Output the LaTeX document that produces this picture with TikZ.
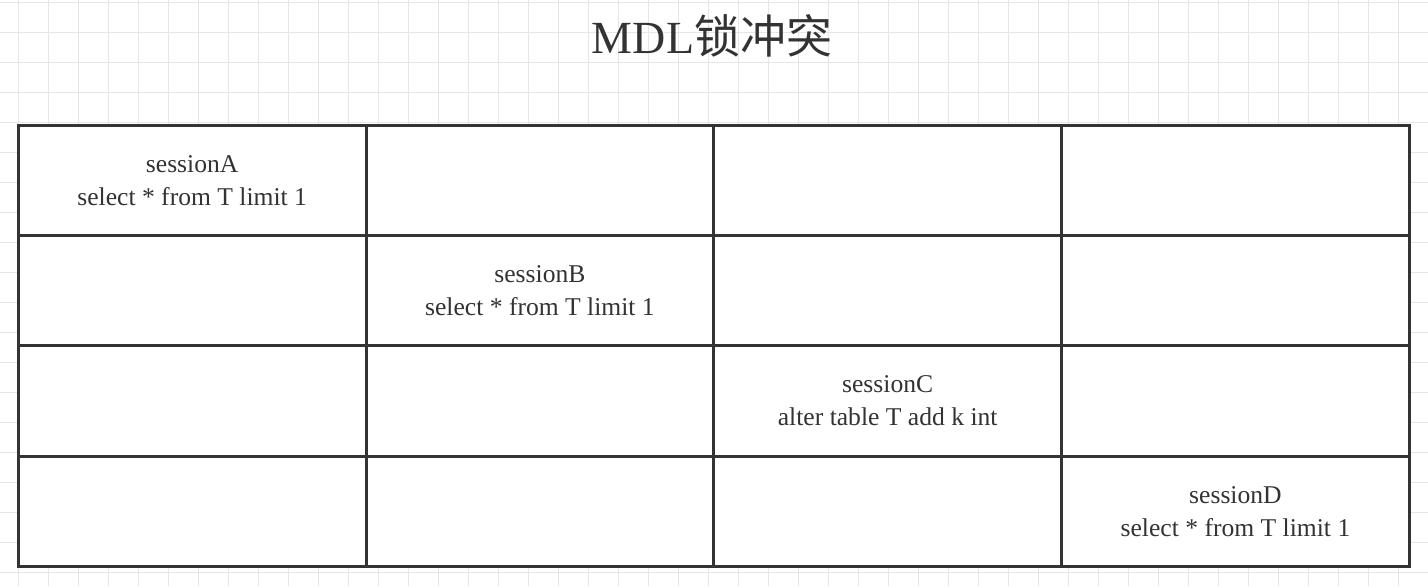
\documentclass[tikz,border=0pt]{standalone}
\usepackage{fontspec}
\setmainfont{Liberation Serif}
\newfontfamily\cjk{Noto Sans CJK SC}
\usepackage{xcolor}
\usepackage{tikz}
\definecolor{gridgray}{HTML}{E6E6E6}
\definecolor{inkgray}{HTML}{333333}
\begin{document}
\begin{tikzpicture}[x=0.5pt,y=-0.5pt,
  gridline/.style={draw=gridgray, line width=0.6pt},
  cell/.style={draw=inkgray, fill=white, line width=1.5pt, inner sep=0pt, outer sep=0pt,
    minimum width=173.875pt, minimum height=55.2pt},
  sess/.style={text=inkgray, align=center, font=\fontsize{12.8}{16.5}\selectfont}]
\useasboundingbox (0,0) rectangle (1428,586);
\fill[white] (0,0) rectangle (1428,586);
\foreach \k in {0,...,47}{
  \draw[gridline] (18.3+30*\k,0) -- (18.3+30*\k,586);}
\foreach \k in {0,...,19}{
  \draw[gridline] (0,2.7+30*\k) -- (1428,2.7+30*\k);}
\node[text=inkgray, font=\fontsize{23}{27}\selectfont, anchor=base] (title) at (712,53) {MDL{\cjk 锁冲突}};
\foreach \r in {1,...,4}{
  \foreach \c in {1,...,4}{
    \node[cell] (c\r\c) at ({18.3+347.75*(\c-0.5)},{125+110.4*(\r-0.5)}) {};}}
\foreach \i/\who/\sql in {1/A/{select * from T limit 1}, 2/B/{select * from T limit 1}, 3/C/{alter table T add k int}, 4/D/{select * from T limit 1}}{
  \node[sess] (s\who) at (c\i\i) {session\who\\\sql};}
\end{tikzpicture}
\end{document}
